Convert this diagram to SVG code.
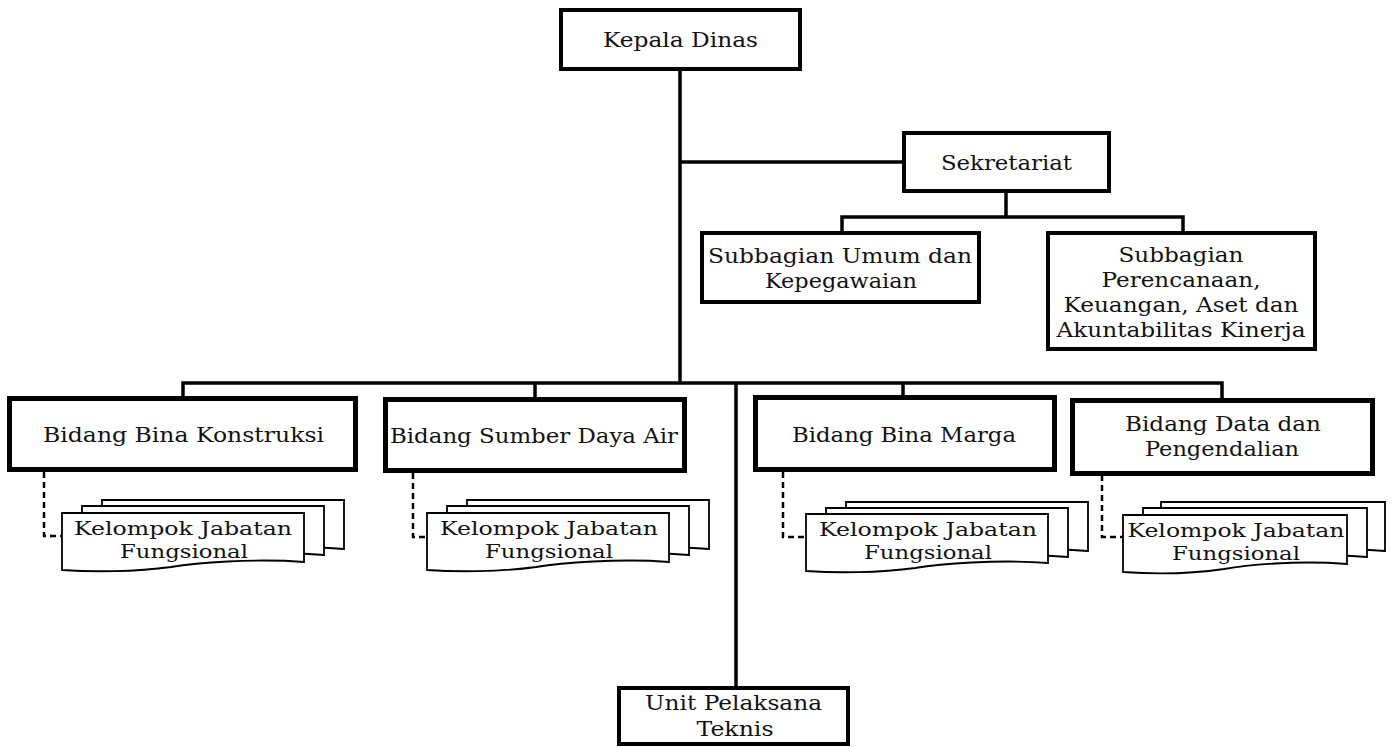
<svg xmlns="http://www.w3.org/2000/svg" xmlns:xlink="http://www.w3.org/1999/xlink" width="1395" height="747" viewBox="0 0 1395 747">
<style>
.box{fill:#fff;stroke:#000;stroke-width:4}
.bid{fill:#fff;stroke:#000;stroke-width:5}
.kjf{fill:#fff;stroke:#000;stroke-width:1.8}
.ln{fill:none;stroke:#000;stroke-width:3.5}
.dash{fill:none;stroke:#000;stroke-width:2.5;stroke-dasharray:6 4}
text{font-family:"DejaVu Serif","Liberation Serif",serif;font-size:20px;fill:#111;text-anchor:middle}
text.k{font-size:18.5px}
</style>
<defs>
<path id="doc242" d="M0,0 H242 V49 C192,45 133,50 109,54 C73,59 29,59 0,57 Z"/>
<path id="doc224" d="M0,0 H224 V49 C174,45 123,50 101,54 C67,59 27,59 0,57 Z"/>
</defs>
<rect width="1395" height="747" fill="#fff"/>
<g id="connectors">
<path class="ln" d="M680,71 V383"/>
<path class="ln" d="M680,162 H902"/>
<path class="ln" d="M1006,193 V217 M842,231 V217 H1183 V231"/>
<path class="ln" d="M183,396 V383 H1222 V398 M535,383 V397 M903,383 V395"/>
<path class="ln" d="M736,383 V686"/>
<path class="dash" d="M44,472 V536 H62"/>
<path class="dash" d="M413,473 V537 H426"/>
<path class="dash" d="M783,472 V537 H805"/>
<path class="dash" d="M1102,475 V537 H1123"/>
</g>
<g id="kepala-dinas">
<rect class="box" x="561" y="10" width="239" height="59"/>
<text x="680.5" y="47" textLength="155" lengthAdjust="spacingAndGlyphs">Kepala Dinas</text>
</g>
<g id="sekretariat">
<rect class="box" x="904" y="133" width="205" height="58"/>
<text x="1006.5" y="170" textLength="131" lengthAdjust="spacingAndGlyphs">Sekretariat</text>
</g>
<g id="subbagian-umum">
<rect class="box" x="702" y="233" width="277" height="69"/>
<text x="840" y="263" textLength="264" lengthAdjust="spacingAndGlyphs">Subbagian Umum dan</text>
<text x="841" y="288" textLength="152" lengthAdjust="spacingAndGlyphs">Kepegawaian</text>
</g>
<g id="subbagian-perencanaan">
<rect class="box" x="1048" y="233" width="267" height="116"/>
<text x="1181" y="262" textLength="125" lengthAdjust="spacingAndGlyphs">Subbagian</text>
<text x="1181" y="287" textLength="159" lengthAdjust="spacingAndGlyphs">Perencanaan,</text>
<text x="1181" y="312" textLength="235" lengthAdjust="spacingAndGlyphs">Keuangan, Aset dan</text>
<text x="1181" y="337" textLength="249" lengthAdjust="spacingAndGlyphs">Akuntabilitas Kinerja</text>
</g>
<g id="bidang-bina-konstruksi">
<rect class="bid" x="9.5" y="398.5" width="346" height="71"/>
<text x="183.5" y="442" textLength="281" lengthAdjust="spacingAndGlyphs">Bidang Bina Konstruksi</text>
</g>
<g id="bidang-sumber-daya-air">
<rect class="bid" x="385.5" y="399.5" width="299" height="71"/>
<text x="534" y="443" textLength="288" lengthAdjust="spacingAndGlyphs">Bidang Sumber Daya Air</text>
</g>
<g id="bidang-bina-marga">
<rect class="bid" x="755.5" y="397.5" width="299" height="72"/>
<text x="904" y="442" textLength="224" lengthAdjust="spacingAndGlyphs">Bidang Bina Marga</text>
</g>
<g id="bidang-data">
<rect class="bid" x="1072.5" y="400.5" width="300" height="73"/>
<text x="1223" y="431" textLength="196" lengthAdjust="spacingAndGlyphs">Bidang Data dan</text>
<text x="1222" y="456" textLength="154" lengthAdjust="spacingAndGlyphs">Pengendalian</text>
</g>
<g id="kjf-1">
<use class="kjf" xlink:href="#doc242" transform="translate(102,500)"/>
<use class="kjf" xlink:href="#doc242" transform="translate(82,506)"/>
<use class="kjf" xlink:href="#doc242" transform="translate(62,513)"/>
<text class="k" x="183" y="535" textLength="218" lengthAdjust="spacingAndGlyphs">Kelompok Jabatan</text>
<text class="k" x="184" y="558" textLength="128" lengthAdjust="spacingAndGlyphs">Fungsional</text>
</g>
<g id="kjf-2">
<use class="kjf" xlink:href="#doc242" transform="translate(467,500)"/>
<use class="kjf" xlink:href="#doc242" transform="translate(447,506)"/>
<use class="kjf" xlink:href="#doc242" transform="translate(427,513)"/>
<text class="k" x="549" y="535" textLength="218" lengthAdjust="spacingAndGlyphs">Kelompok Jabatan</text>
<text class="k" x="549" y="558" textLength="128" lengthAdjust="spacingAndGlyphs">Fungsional</text>
</g>
<g id="kjf-3">
<use class="kjf" xlink:href="#doc242" transform="translate(846,502)"/>
<use class="kjf" xlink:href="#doc242" transform="translate(826,508)"/>
<use class="kjf" xlink:href="#doc242" transform="translate(806,514)"/>
<text class="k" x="928" y="536" textLength="218" lengthAdjust="spacingAndGlyphs">Kelompok Jabatan</text>
<text class="k" x="928" y="559" textLength="128" lengthAdjust="spacingAndGlyphs">Fungsional</text>
</g>
<g id="kjf-4">
<use class="kjf" xlink:href="#doc224" transform="translate(1161,502)"/>
<use class="kjf" xlink:href="#doc224" transform="translate(1143,508)"/>
<use class="kjf" xlink:href="#doc224" transform="translate(1123,515)"/>
<text class="k" x="1236" y="537" textLength="217" lengthAdjust="spacingAndGlyphs">Kelompok Jabatan</text>
<text class="k" x="1236" y="560" textLength="128" lengthAdjust="spacingAndGlyphs">Fungsional</text>
</g>
<g id="unit-pelaksana-teknis">
<rect class="box" x="619" y="688" width="229" height="56"/>
<text x="733.5" y="710" textLength="177" lengthAdjust="spacingAndGlyphs">Unit Pelaksana</text>
<text x="735" y="736" textLength="77" lengthAdjust="spacingAndGlyphs">Teknis</text>
</g>
</svg>
